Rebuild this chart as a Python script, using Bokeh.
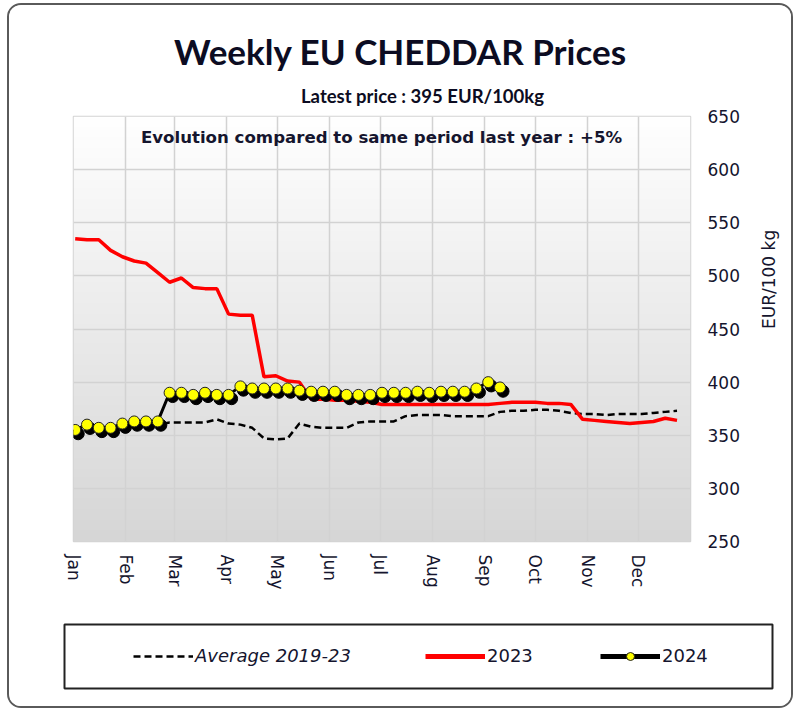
import numpy as np
from bokeh.plotting import figure
from bokeh.layouts import column
from bokeh.models import (Label, Legend, LegendItem, FixedTicker, Range1d,
                          ColumnDataSource, LinearAxis)
from bokeh.embed import file_html
from bokeh.resources import INLINE

# ---------------- data ----------------
months = ["Jan", "Feb", "Mar", "Apr", "May", "Jun",
          "Jul", "Aug", "Sep", "Oct", "Nov", "Dec"]
month_start_day = [0, 31, 60, 91, 121, 152, 182, 213, 244, 274, 305, 335]
y_ticks = [250, 300, 350, 400, 450, 500, 550, 600, 650]

avg_2019_23 = [355, 355, 355, 356, 357, 358, 359, 360, 362, 362,
               362, 362, 365, 361, 360, 357, 347, 346, 347, 361,
               358, 357, 357, 357, 362, 363, 363, 363, 368, 369,
               369, 369, 368, 368, 368, 368, 372, 373, 373, 374,
               374, 373, 371, 370, 370, 369, 370, 370, 370, 371,
               372, 373]
prices_2023 = [535, 534, 534, 524, 518, 514, 512, 503, 494, 498,
               489, 488, 488, 464, 463, 463, 405, 406, 401, 400,
               384, 384, 383, 383, 382, 381, 379, 379, 379, 379,
               379, 379, 379, 379, 379, 379, 380, 381, 381, 381,
               380, 380, 379, 365, 364, 363, 362, 361, 362, 363,
               366, 364]
prices_2024 = [355, 360, 357, 357, 361, 363, 363, 363, 390, 390,
               388, 390, 388, 388, 396, 394, 394, 394, 394, 392,
               391, 391, 391, 388, 388, 388, 390, 390, 390, 391,
               390, 391, 391, 391, 394, 400, 395]

title_text = "Weekly EU CHEDDAR Prices"
subtitle_text = "Latest price : 395 EUR/100kg"
note_text = "Evolution compared to same period last year : +5%"
y_label = "EUR/100 kg"
legend_labels = ["Average 2019-23", "2023", "2024"]


def week_day(n):
    # weekly observations -> day of the year
    return [7 * i + 1 for i in range(n)]


TXT = "#15152e"
W = 782                     # content width inside the rounded frame
H_HEAD, H_MAIN, H_LEG = 102, 509, 90


def no_align(fig):
    if "frame_align" in fig.properties():
        fig.frame_align = False


def bare(fig):
    fig.xgrid.visible = False
    fig.ygrid.visible = False
    fig.background_fill_color = "white"
    fig.border_fill_color = "white"
    fig.outline_line_color = None


# ---------------- header (titles) ----------------
hd = figure(width=W, height=H_HEAD, output_backend="svg", toolbar_location=None,
            x_range=Range1d(0, 1), y_range=Range1d(0, 1),
            x_axis_location=None, y_axis_location=None,
            min_border_left=0, min_border_right=0,
            min_border_top=0, min_border_bottom=0)
bare(hd)
no_align(hd)
hd.add_layout(Label(x=391, y=57, x_units="screen", y_units="screen",
                    text=title_text, text_align="center", text_baseline="middle",
                    text_font="Lato", text_font_style="bold",
                    text_font_size="35px", text_color="#0c0c22"))
hd.add_layout(Label(x=413, y=12, x_units="screen", y_units="screen",
                    text=subtitle_text, text_align="center", text_baseline="middle",
                    text_font="Lato", text_font_style="bold",
                    text_font_size="18.5px", text_color="#0c0c22"))

# ---------------- main chart ----------------
p = figure(width=W, height=H_MAIN, output_backend="svg", toolbar_location=None,
           x_range=Range1d(0, 366), y_range=Range1d(250, 650),
           y_axis_location="right",
           min_border_left=64, min_border_right=99,
           min_border_top=9, min_border_bottom=75)
no_align(p)
p.background_fill_color = "white"
p.border_fill_color = "white"
p.outline_line_color = "#d4d4d4"
p.outline_line_width = 1.5

# gradient background of the plot area
n = 200
g = np.linspace(214, 255, n).astype(np.uint8)
img = np.empty((n, 1), dtype=np.uint32)
view = img.view(dtype=np.uint8).reshape((n, 1, 4))
view[:, 0, 0] = g
view[:, 0, 1] = g
view[:, 0, 2] = g
view[:, 0, 3] = 255
p.image_rgba(image=[img], x=0, y=250, dw=366, dh=400, level="image")

# grids
p.xgrid.ticker = FixedTicker(ticks=month_start_day)
p.ygrid.ticker = FixedTicker(ticks=y_ticks)
for gr in (p.xgrid, p.ygrid):
    gr.grid_line_color = "#d2d2d2"
    gr.grid_line_width = 1.5


def quiet(ax):
    ax.axis_line_color = None
    ax.major_tick_line_color = None
    ax.minor_tick_line_color = None
    ax.major_tick_out = 0
    ax.minor_tick_out = 0
    ax.major_tick_in = 0
    ax.major_label_text_font = "DejaVu Sans"
    ax.major_label_text_font_size = "17px"
    ax.major_label_text_color = TXT


ya = p.yaxis[0]
quiet(ya)
ya.ticker = FixedTicker(ticks=y_ticks)
ya.major_label_standoff = 17

# axis title, written as the single vertical label of an outer right axis
yt = LinearAxis(ticker=FixedTicker(ticks=[450]),
                major_label_overrides={450: y_label},
                major_label_orientation=float(np.pi / 2),
                major_label_standoff=26)
quiet(yt)
p.add_layout(yt, "right")

xa = p.xaxis[0]
quiet(xa)
xa.ticker = FixedTicker(ticks=month_start_day)
xa.major_label_overrides = {d: m for d, m in zip(month_start_day, months)}
xa.major_label_orientation = "vertical"
xa.major_label_standoff = 13

# series
x24 = week_day(len(prices_2024))
src_avg = ColumnDataSource(dict(x=week_day(len(avg_2019_23)), y=avg_2019_23))
src_23 = ColumnDataSource(dict(x=week_day(len(prices_2023)), y=prices_2023))
src_24 = ColumnDataSource(dict(x=x24, y=prices_2024))
src_24s = ColumnDataSource(dict(x=[v + 1.8 for v in x24],
                                y=[v - 3.6 for v in prices_2024]))

avg_style = dict(line_color="black", line_width=2.5, line_dash="7 4")

p.line("x", "y", source=src_avg, **avg_style)
p.line("x", "y", source=src_23, line_color="#ff0000", line_width=3.5)
p.line("x", "y", source=src_24, line_color="black", line_width=3)
p.scatter("x", "y", source=src_24s, size=12, marker="circle",
          fill_color="black", line_color="black")
p.scatter("x", "y", source=src_24, size=11, marker="circle",
          fill_color="#ffff00", line_color="#222222", line_width=1)

# note inside the plot area (screen units from the frame's bottom-left)
p.add_layout(Label(x=308, y=404, x_units="screen", y_units="screen",
                   text=note_text, text_align="center", text_baseline="middle",
                   text_font="DejaVu Sans", text_font_style="bold",
                   text_font_size="16.6px", text_color=TXT))

# ---------------- legend panel ----------------
lf = figure(width=W, height=H_LEG, output_backend="svg", toolbar_location=None,
            x_range=Range1d(0, 1), y_range=Range1d(0, 1),
            x_axis_location=None, y_axis_location=None,
            min_border_left=55, min_border_right=19,
            min_border_top=8, min_border_bottom=18)
bare(lf)
no_align(lf)
lf.outline_line_color = "#222222"
lf.outline_line_width = 2

# the same series, outside this panel's ranges, only to feed its legend
la = lf.line("x", "y", source=src_avg, **avg_style)
lr = lf.line("x", "y", source=src_23, line_color="#ff0000", line_width=5)
lb = lf.line("x", "y", source=src_24, line_color="black", line_width=5)
lm = lf.scatter("x", "y", source=src_24, size=9, marker="circle",
                fill_color="#ffff00", line_color="#222222", line_width=1)

common = dict(orientation="horizontal", padding=0, margin=0,
              glyph_width=60, glyph_height=20, label_standoff=2,
              border_line_alpha=0, background_fill_alpha=0,
              label_text_font="DejaVu Sans", label_text_font_size="18px",
              label_text_color=TXT)
lf.add_layout(Legend(items=[LegendItem(label=legend_labels[0], renderers=[la])],
                     location=(69, 22), label_text_font_style="italic",
                     **common), "center")
lf.add_layout(Legend(items=[LegendItem(label=legend_labels[1], renderers=[lr])],
                     location=(361, 22), **common), "center")
lf.add_layout(Legend(items=[LegendItem(label=legend_labels[2], renderers=[lb, lm])],
                     location=(536, 22), **common), "center")

layout = column(hd, p, lf, spacing=0, margin=(3, 0, 0, 7),
                styles={"border": "2px solid #5a5a5a", "border-radius": "14px",
                        "overflow": "hidden"})

open("out.html", "w").write(file_html(layout, INLINE))
